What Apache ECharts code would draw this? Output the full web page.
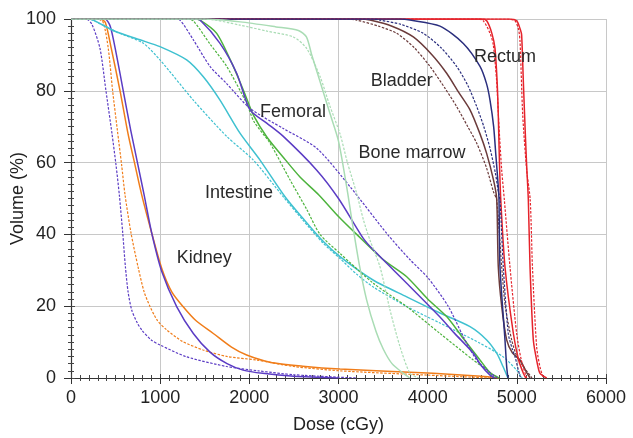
<!DOCTYPE html>
<html>
<head>
<meta charset="utf-8">
<script src="https://cdn.jsdelivr.net/npm/echarts@6/dist/echarts.min.js"></script>
<style>
  html, body { margin: 0; padding: 0; background: #fff; }
  #main { width: 633px; height: 438px; }
</style>
</head>
<body>
<div id="main"></div>
<script>
// dose (cGy), volume (%) pairs
var kidneyPurpleDash = [[0,100],[170,100],[235,98.5],[325,91.8],[392,80],[460,68],[505,59.3],[542,51],[580,40.4],[610,31],[640,24],[680,19],[740,15.5],[793,13.4],[900,10.6],[998,9.2],[1297,5.9],[1746,3.2],[2100,2],[2500,0.9],[3200,0]];
var kidneyOrangeDash = [[0,100],[300,100],[362,99],[418,91.8],[467,80],[520,69],[568,59.3],[606,51],[673,40.4],[755,30.6],[820,24],[886,19.9],[970,16],[1073,13.4],[1250,10.2],[1482,7.8],[1750,6],[2082,5],[2500,3.2],[3017,2],[4000,0.8],[4700,0]];
var kidneyOrange = [[0,100],[330,100],[385,99],[450,92],[550,80],[640,68],[718,59.3],[793,51],[905,40.4],[1017,30.6],[1130,24],[1256,19.9],[1400,16],[1596,12.4],[1800,8.6],[1970,6.4],[2232,4.4],[2600,3.3],[3017,2.5],[4060,1.3],[4600,0.5],[4800,0]];
var kidneyPurple = [[0,100],[380,100],[440,98],[510,90],[586,80],[670,69],[751,59.3],[820,51],[905,40.4],[1020,29.5],[1185,19.9],[1372,12.4],[1559,7.2],[1750,4],[1930,2.2],[2150,1.3],[2500,0.5],[3000,0]];

var intestineSolid = [[0,100],[200,100],[250,99.7],[500,96.5],[774,94.2],[998,92.3],[1297,88.6],[1484,83.9],[1671,77.4],[1895,68.2],[2120,60.7],[2400,50.5],[2600,44.5],[2830,38],[3017,33.8],[3387,27.3],[3765,22.6],[4138,18.1],[4475,14.3],[4662,10.6],[4774,6.9],[4845,3.2],[4900,0]];
var intestineDash = [[0,100],[200,100],[260,99.5],[500,96.5],[807,93.3],[998,88.6],[1372,77.4],[1746,67.3],[2045,60.7],[2380,50.5],[2600,44],[2830,37.5],[3017,33.3],[3200,29],[3387,25.4],[3765,19.9],[4138,15.3],[4587,9.7],[4845,5.9],[4998,2.2],[5060,0]];

var femoralPurpleDash = [[0,100],[1150,100],[1222,99.7],[1372,94.2],[1559,86.8],[1746,82],[2008,75.1],[2381,69.5],[2756,64],[3129,53.3],[3550,40],[3800,33],[4000,28],[4230,20],[4400,11.5],[4550,5],[4700,1.5],[4780,0]];
var femoralPurple = [[0,100],[1380,100],[1447,99.7],[1671,93.2],[1858,84.9],[2008,74.7],[2195,71],[2381,67.3],[2756,57.9],[3000,50],[3278,38.9],[3390,35.7],[3765,26.4],[4138,17],[4300,12.5],[4512,6.9],[4600,3.5],[4700,0.8],[4750,0]];
var femoralGreen = [[0,100],[1380,100],[1447,99.7],[1634,96],[1820,86.8],[1960,78.5],[2050,73],[2200,67],[2380,61.5],[2568,56],[2780,51],[3000,45],[3204,40],[3500,33],[3765,28.2],[4000,22],[4213,17.1],[4400,11],[4587,5],[4700,1.5],[4800,0]];
var femoralGreenDash = [[0,100],[1300,100],[1372,99.5],[1560,93],[1746,86.8],[1970,76.5],[2050,71.5],[2232,65.4],[2456,55.2],[2643,47],[2793,40],[3017,34.7],[3390,26.4],[3765,19.9],[4138,12.4],[4512,5],[4662,2.2],[4750,0]];

var boneMarrowA = [[0,100],[1500,100],[1900,99.2],[2300,97.8],[2550,96.8],[2640,95],[2700,90],[2800,82],[2900,74],[3000,66],[3100,52],[3150,44],[3230,32],[3316,21.7],[3420,13],[3503,8],[3600,4],[3727,1.3],[3800,0]];
var boneMarrowB = [[0,100],[1500,100],[1895,98.3],[2200,96.6],[2494,95],[2643,91.8],[2793,84],[2900,76],[3017,68],[3100,60],[3204,51.4],[3280,44],[3353,38.4],[3465,31],[3578,18.9],[3690,8.7],[3802,1.3],[3900,0]];

var bladderBrownDash = [[0,100],[3100,100],[3204,99.7],[3450,98],[3653,96],[3850,92],[4026,86.8],[4200,80.5],[4325,75.6],[4450,70],[4550,65.4],[4662,58.4],[4736,52],[4774,49.6],[4830,31],[4870,20],[4942,10.6],[5000,6],[5073,3.2],[5170,0]];
var bladderBrown = [[0,100],[3250,100],[3353,99.7],[3600,98],[3839,95],[4050,90],[4213,84.9],[4350,79.5],[4475,74.7],[4587,68],[4662,62.5],[4740,55],[4774,50],[4792,31],[4830,20],[4886,10.6],[4950,7],[5036,5],[5100,2],[5148,0]];
var bladderNavyDash = [[0,100],[3380,100],[3465,99.7],[3700,98.5],[3951,96],[4150,92],[4325,86.8],[4450,81.5],[4550,75.6],[4630,70],[4699,64],[4760,57],[4792,52],[4811,49.6],[4848,31],[4904,12.4],[4950,8],[4980,5.9],[5036,0.5],[5060,0]];
var bladderNavy = [[0,100],[3700,100],[3802,99.7],[4138,98],[4400,93.2],[4587,86.8],[4660,82],[4699,77.4],[4740,70],[4765,62],[4792,53.3],[4800,49.6],[4811,31],[4867,10.6],[4886,3.2],[4900,0]];

var rectumDash1 = [[0,100],[4560,100],[4624,99.5],[4700,96],[4736,92.8],[4774,82.6],[4800,70],[4830,58],[4860,49.6],[4923,31],[4998,12.4],[5050,5],[5110,0]];
var rectumSolid1 = [[0,100],[4600,100],[4662,99.5],[4720,96],[4755,91.8],[4780,82],[4792,73.3],[4805,60],[4820,49.6],[4867,31],[4961,12.4],[5020,5],[5073,1.3],[5100,0]];
var rectumSolid2 = [[0,100],[4920,100],[4998,99.5],[5040,97],[5054,95.5],[5073,82.6],[5092,70],[5110,59.3],[5129,49.6],[5148,31],[5185,10.6],[5230,4],[5260,1.3],[5335,0]];
var rectumDash2 = [[0,100],[4900,100],[4980,99.5],[5020,97],[5036,93.7],[5066,73.3],[5110,58],[5150,49.6],[5175,31],[5222,8.7],[5260,3],[5297,0]];

var labelNames = ['Rectum', 'Bladder', 'Femoral', 'Bone marrow', 'Intestine', 'Kidney'];
var labelDose = [4868, 3710, 2490, 3824, 1885, 1495];
var labelVol = [89.4, 82.8, 74, 62.8, 51.5, 33.4];

var purple = '#5b3cc4', orange = '#f07d1a', cyan = '#3fc1d0', green = '#4db33d';
var pale = '#a9dcb4', brown = '#6b3b3b', navy = '#2b2f7e', red = '#e5232b';
var dash = [2.5, 1.5];

// drawing order matters along the 100% line
var curves = [
  [kidneyPurpleDash, purple, dash],
  [kidneyOrangeDash, orange, dash],
  [kidneyOrange, orange, 'solid'],
  [kidneyPurple, purple, 'solid'],
  [intestineDash, cyan, dash],
  [intestineSolid, cyan, 'solid'],
  [femoralGreenDash, green, dash],
  [femoralGreen, green, 'solid'],
  [femoralPurpleDash, purple, dash],
  [femoralPurple, purple, 'solid'],
  [bladderBrownDash, brown, dash],
  [bladderBrown, brown, 'solid'],
  [rectumDash1, red, dash],
  [rectumSolid1, red, 'solid'],
  [rectumDash2, red, dash],
  [rectumSolid2, red, 'solid'],
  [bladderNavyDash, navy, dash],
  [bladderNavy, navy, 'solid'],
  [boneMarrowB, pale, dash],
  [boneMarrowA, pale, 'solid']
];

var series = curves.map(function (c) {
  return {
    type: 'line',
    data: c[0],
    showSymbol: false,
    smooth: 0.25,
    silent: true,
    clip: true,
    lineStyle: { color: c[1], width: c[2] === 'solid' ? 1.5 : 1.2, type: c[2] }
  };
});

var font = "'Liberation Sans', Arial, sans-serif";
var plain = function (v) { return String(v); };
var chart = echarts.init(document.getElementById('main'));

var option = {
  animation: false,
  backgroundColor: '#fff',
  grid: { left: 71, right: 27, top: 19, bottom: 60, outerBoundsMode: 'none', containLabel: false },
  xAxis: [{
    type: 'value', min: 0, max: 6000, interval: 1000,
    name: 'Dose (cGy)', nameLocation: 'middle', nameGap: 38, nameMoveOverlap: false,
    nameTextStyle: { fontSize: 18, color: '#222', fontFamily: font },
    axisLine: { lineStyle: { color: '#333', width: 1.2 } },
    axisTick: { show: true, length: 6, lineStyle: { color: '#333' } },
    minorTick: { show: true, splitNumber: 10, length: 3, lineStyle: { color: '#444' } },
    axisLabel: { fontSize: 18, color: '#222', margin: 11, fontFamily: font, formatter: plain },
    splitLine: { show: true, lineStyle: { color: '#c8c8c8', width: 1 } }
  }, {
    type: 'value', min: 0, max: 6000, interval: 1000, position: 'bottom',
    axisLine: { show: false },
    axisTick: { show: true, inside: true, length: 4, lineStyle: { color: '#444' } },
    minorTick: { show: true, splitNumber: 10, length: 3, lineStyle: { color: '#444' } },
    axisLabel: { show: false },
    splitLine: { show: false }
  }],
  yAxis: [{
    type: 'value', min: 0, max: 100, interval: 20,
    name: 'Volume (%)', nameLocation: 'middle', nameGap: 44, nameRotate: 90, nameMoveOverlap: false,
    nameTextStyle: { fontSize: 18, color: '#222', fontFamily: font },
    axisLine: { show: true, lineStyle: { color: '#333', width: 1.2 } },
    axisTick: { show: true, length: 7, lineStyle: { color: '#333' } },
    minorTick: { show: true, splitNumber: 10, length: 3, lineStyle: { color: '#444' } },
    axisLabel: { fontSize: 18, color: '#222', margin: 15, fontFamily: font, formatter: plain },
    splitLine: { show: true, lineStyle: { color: '#c8c8c8', width: 1 } }
  }, {
    type: 'value', min: 0, max: 100, interval: 20, position: 'left',
    axisLine: { show: false },
    axisTick: { show: true, inside: true, length: 4, lineStyle: { color: '#444' } },
    minorTick: { show: true, splitNumber: 10, length: 3, lineStyle: { color: '#444' } },
    axisLabel: { show: false },
    splitLine: { show: false }
  }],
  series: series
};

chart.setOption(option);

// organ labels, placed in data coordinates
var texts = labelNames.map(function (name, i) {
  var p = chart.convertToPixel({ xAxisIndex: 0, yAxisIndex: 0 }, [labelDose[i], labelVol[i]]);
  return {
    type: 'text', x: p[0], y: p[1], z: 100,
    style: { text: name, fontSize: 18, fill: '#2a2a2a', fontFamily: font, align: 'center', verticalAlign: 'middle' }
  };
});
chart.setOption({ graphic: texts });
</script>
</body>
</html>
